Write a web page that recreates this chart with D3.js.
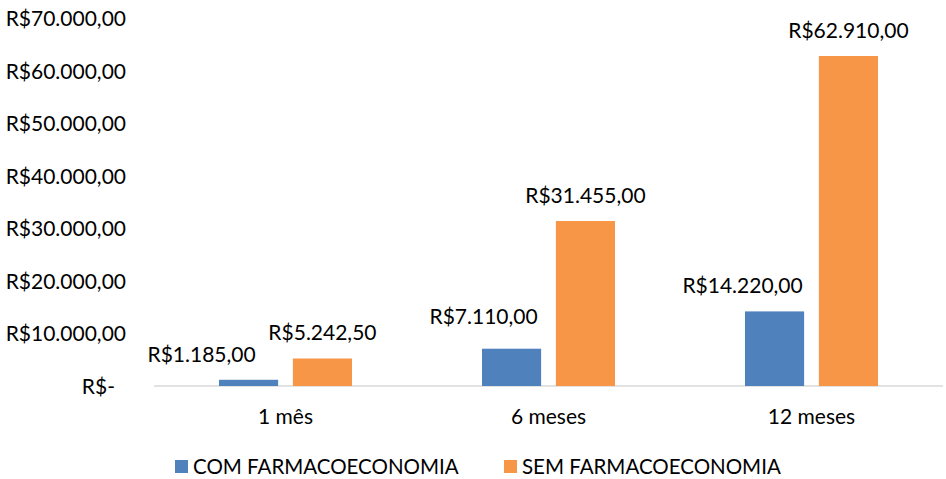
<!DOCTYPE html>
<html>
<head>
<meta charset="utf-8">
<script src="https://d3js.org/d3.v7.min.js"></script>
<style>
  body { margin: 0; background: #fff; }
  svg text { font-family: Lato, "Liberation Sans", sans-serif; fill: #000; }
</style>
</head>
<body>
<svg id="drawing_region"></svg>
<script>
// data
const categories = ["1 mês", "6 meses", "12 meses"];
const seriesNames = ["COM FARMACOECONOMIA", "SEM FARMACOECONOMIA"];
const comValues = [1185, 7110, 14220];
const semValues = [5242.5, 31455, 62910];
const yTicks = [0, 10000, 20000, 30000, 40000, 50000, 60000, 70000];

const colors = ["#4F81BD", "#F79646"];
// labels of the blue bars were dragged left in the original
const comLabelShift = [[-47, 0], [-28, -7], [-32, 0]];

const width = 946, height = 479;
const fmt = v => {
    if (v === 0) return "R$-";
    const s = v.toFixed(2).split(".");
    return "R$" + s[0].replace(/\B(?=(\d{3})+(?!\d))/g, ".") + "," + s[1];
};

const svg = d3.select("#drawing_region")
    .attr("width", width)
    .attr("height", height);

const y = d3.scaleLinear().domain([0, 70000]).range([386, 18.8]);
const x = d3.scaleBand().domain(categories).range([154, 943]);
const xs = d3.scaleBand().domain([0, 1]).range([65, x.bandwidth() - 65]).paddingInner(0.2);

// y labels
svg.append("g").selectAll("text")
    .data(yTicks)
    .join("text")
    .attr("x", d => d === 0 ? 115 : 126)
    .attr("y", d => y(d))
    .attr("dy", "0.36em")
    .attr("text-anchor", "end")
    .style("font-size", "21px")
    .text(fmt);

// axis line
svg.append("line")
    .attr("x1", 154).attr("x2", 943)
    .attr("y1", y(0)).attr("y2", y(0))
    .attr("stroke", "#D9D9D9")
    .attr("stroke-width", 1.5);

const rows = categories.map((c, i) => ({ cat: c, i: i, vals: [comValues[i], semValues[i]] }));

const groups = svg.append("g").selectAll("g")
    .data(rows)
    .join("g")
    .attr("transform", d => `translate(${x(d.cat)},0)`);

groups.selectAll("rect")
    .data(d => d.vals.map((v, s) => ({ v: v, s: s, i: d.i })))
    .join("rect")
    .attr("x", d => xs(d.s))
    .attr("width", xs.bandwidth())
    .attr("y", d => y(d.v))
    .attr("height", d => y(0) - y(d.v))
    .attr("fill", d => colors[d.s]);

groups.selectAll("text.lbl")
    .data(d => d.vals.map((v, s) => ({ v: v, s: s, i: d.i })))
    .join("text")
    .attr("class", "lbl")
    .attr("x", d => xs(d.s) + xs.bandwidth() / 2 + (d.s === 0 ? comLabelShift[d.i][0] : 0))
    .attr("y", d => y(d.v) - 18 + (d.s === 0 ? comLabelShift[d.i][1] : 0))
    .attr("text-anchor", "middle")
    .style("font-size", "21px")
    .text(d => fmt(d.v));

// category labels
svg.append("g").selectAll("text")
    .data(categories)
    .join("text")
    .attr("x", d => x(d) + x.bandwidth() / 2)
    .attr("y", 424)
    .attr("text-anchor", "middle")
    .style("font-size", "21px")
    .text(d => d);

// legend
const legendX = [175, 504];
const legend = svg.append("g").selectAll("g")
    .data(seriesNames)
    .join("g")
    .attr("transform", (d, i) => `translate(${legendX[i]},0)`);
legend.append("rect")
    .attr("x", 0).attr("y", 460)
    .attr("width", 13).attr("height", 13)
    .attr("fill", (d, i) => colors[i]);
legend.append("text")
    .attr("x", 18).attr("y", 474)
    .style("font-size", "20.5px")
    .text(d => d);
</script>
</body>
</html>
